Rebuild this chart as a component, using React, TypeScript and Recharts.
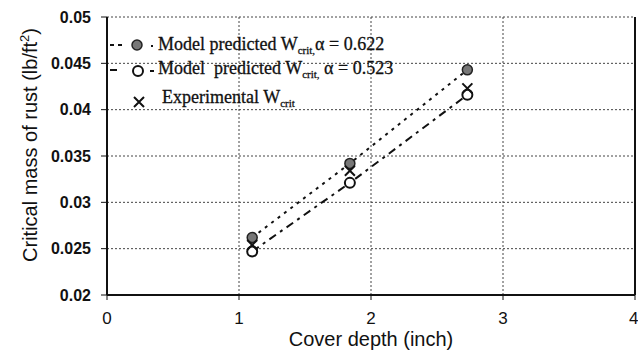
import {
  ComposedChart,
  Line,
  XAxis,
  YAxis,
  CartesianGrid,
  ReferenceLine,
  Legend,
  Label,
} from 'recharts';

document.body.style.margin = '0';

// cover depth (inch) of the three specimens
const coverDepth = [1.1, 1.84, 2.73];
// critical mass of rust W_crit (lb/ft^2)
const model622 = [0.0262, 0.0342, 0.0443];
const model523 = [0.0247, 0.0321, 0.0416];
const experimental = [0.0254, 0.0334, 0.0423];

const xTicks = [0, 1, 2, 3, 4];
const yTicks = [0.02, 0.025, 0.03, 0.035, 0.04, 0.045, 0.05];

const toRows = (vals: number[]) => coverDepth.map((d, i) => ({ depth: d, w: vals[i] }));

const SANS = '"Liberation Sans", Arial, sans-serif';
const SERIF = '"Liberation Serif", "Times New Roman", serif';

const FilledDot = (p: any) => (
  <circle key={`f-${p.index}`} cx={p.cx} cy={p.cy} r={5} fill="#777" stroke="#222" strokeWidth={1.5} />
);
const OpenDot = (p: any) => (
  <circle key={`o-${p.index}`} cx={p.cx} cy={p.cy} r={5} fill="#fff" stroke="#111" strokeWidth={2} />
);
const Cross = (p: any) => (
  <path
    key={`x-${p.index}`}
    d={`M${p.cx - 5},${p.cy - 5}L${p.cx + 5},${p.cy + 5}M${p.cx + 5},${p.cy - 5}L${p.cx - 5},${p.cy + 5}`}
    stroke="#111"
    strokeWidth={2}
  />
);

const LegendBox = () => (
  <svg width={320} height={84} style={{ display: 'block' }}>
    <g stroke="#111" strokeWidth={2}>
      <line x1={6} y1={15} x2={10} y2={15} />
      <line x1={14} y1={15} x2={18} y2={15} />
      <line x1={47} y1={16} x2={49} y2={16} />
      <line x1={6} y1={40} x2={13} y2={40} />
      <line x1={46} y1={41} x2={50} y2={41} />
    </g>
    <circle cx={33} cy={15} r={5} fill="#777" stroke="#222" strokeWidth={1.5} />
    <circle cx={34} cy={41} r={5} fill="#fff" stroke="#111" strokeWidth={2} />
    <path d="M30,67L40,77M40,67L30,77" stroke="#111" strokeWidth={2} />
    <g fontFamily={SERIF} fontSize={18} fill="#111" stroke="#111" strokeWidth={0.3}>
      <text x={54} y={20}>
        Model predicted W
        <tspan fontSize={11} dy={4}>crit,</tspan>
        <tspan dy={-4}>α = 0.622</tspan>
      </text>
      <text x={54} y={44} xmlSpace="preserve">
        Model  predicted W
        <tspan fontSize={11} dy={4}>crit,</tspan>
        <tspan dy={-4}> α = 0.523</tspan>
      </text>
      <text x={58} y={73}>
        Experimental W
        <tspan fontSize={11} dy={4}>crit</tspan>
      </text>
    </g>
  </svg>
);

const YTitle = () => (
  <text
    x={37}
    y={145}
    transform="rotate(-90, 37, 145)"
    textAnchor="middle"
    fontFamily={SANS}
    fontSize={20}
    fill="#111"
  >
    Critical mass of rust (lb/ft
    <tspan fontSize={13} dy={-8}>2</tspan>
    <tspan dy={8}>)</tspan>
  </text>
);

export default function App() {
  return (
    <ComposedChart width={638} height={351} margin={{ top: 17, right: 3, bottom: 0, left: 0 }}>
      <CartesianGrid stroke="#444" strokeDasharray="2 2" />
      <XAxis
        dataKey="depth"
        type="number"
        domain={[0, 4]}
        ticks={xTicks}
        height={56}
        tickSize={5}
        tickMargin={12}
        axisLine={{ stroke: '#111', strokeWidth: 2 }}
        tickLine={{ stroke: '#111' }}
        tick={{ fontFamily: SANS, fontSize: 17, fill: '#111' }}
      >
        <Label
          value="Cover depth (inch)"
          position="insideBottom"
          offset={5}
          style={{ fontFamily: SANS, fontSize: 20, fill: '#111' }}
        />
      </XAxis>
      <YAxis
        dataKey="w"
        type="number"
        domain={[0.02, 0.05]}
        ticks={yTicks}
        width={107}
        tickSize={6}
        tickMargin={10}
        axisLine={{ stroke: '#111', strokeWidth: 2 }}
        tickLine={{ stroke: '#111' }}
        tick={{ fontFamily: SANS, fontSize: 16, fontWeight: 'bold', fill: '#111' }}
      >
        <Label content={() => <YTitle />} />
      </YAxis>
      <ReferenceLine x={4} stroke="#111" strokeWidth={2} />
      <Line
        data={toRows(model622)}
        dataKey="w"
        stroke="#111"
        strokeWidth={2}
        strokeDasharray="3 5"
        dot={FilledDot}
        activeDot={false}
        isAnimationActive={false}
      />
      <Line
        data={toRows(model523)}
        dataKey="w"
        stroke="#111"
        strokeWidth={2}
        strokeDasharray="8 5 3 5"
        dot={OpenDot}
        activeDot={false}
        isAnimationActive={false}
      />
      <Line
        data={toRows(experimental)}
        dataKey="w"
        stroke="none"
        dot={Cross}
        activeDot={false}
        isAnimationActive={false}
      />
      <Legend
        layout="vertical"
        align="center"
        verticalAlign="middle"
        wrapperStyle={{ left: 104, top: 30, width: 320 }}
        content={() => <LegendBox />}
      />
    </ComposedChart>
  );
}
